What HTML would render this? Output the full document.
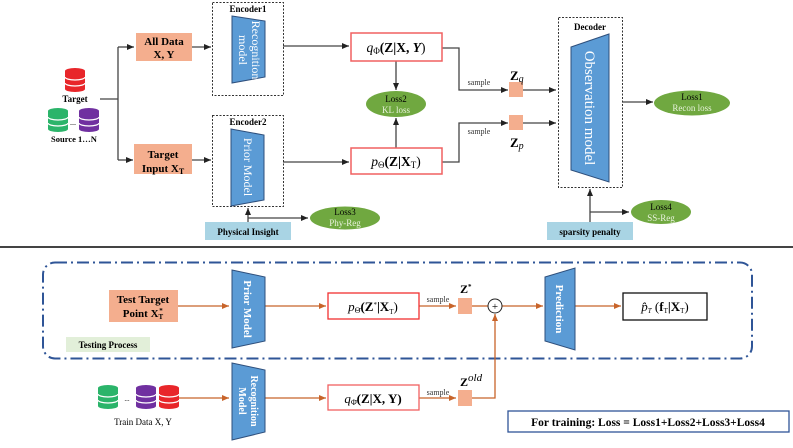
<!DOCTYPE html>
<html><head><meta charset="utf-8"><style>
body{margin:0;background:#fff}
svg{display:block;font-family:"Liberation Serif",serif}
</style></head><body>
<svg width="793" height="448" viewBox="0 0 793 448" xmlns="http://www.w3.org/2000/svg">
<defs>
<marker id="a" markerWidth="8" markerHeight="8" refX="7" refY="4" orient="auto" markerUnits="userSpaceOnUse"><path d="M0,1 L7,4 L0,7z" fill="#222"/></marker>
<marker id="o" markerWidth="8" markerHeight="8" refX="7" refY="4" orient="auto" markerUnits="userSpaceOnUse"><path d="M0,1 L7,4 L0,7z" fill="#c8642a"/></marker>
<g id="db"><ellipse cx="0" cy="0" rx="10" ry="3"/><rect x="-10" y="0" width="20" height="18"/><ellipse cx="0" cy="18" rx="10" ry="3"/><path d="M-10,6 a10,3 0 0 0 20,0 M-10,12 a10,3 0 0 0 20,0" stroke="#fff" stroke-width="1.2" fill="none"/></g>
</defs>
<!-- TOP -->
<g fill="#e8262a"><use href="#db" x="75" y="71"/></g>
<text x="75" y="102" font-size="9" font-weight="bold" text-anchor="middle">Target</text>
<g fill="#2bb46a"><use href="#db" x="58" y="111"/></g>
<text x="73" y="125" font-size="8" text-anchor="middle">...</text>
<g fill="#7030a0"><use href="#db" x="89" y="111"/></g>
<text x="74" y="142" font-size="8.5" font-weight="bold" text-anchor="middle">Source 1…N</text>
<g stroke="#444" stroke-width="1.3" fill="none">
<path d="M100,99 H118 M118,47 V160"/>
<path d="M118,47 H134" marker-end="url(#a)"/><path d="M118,160 H133" marker-end="url(#a)"/>
<path d="M192,47 H211" marker-end="url(#a)"/><path d="M192,160 H211" marker-end="url(#a)"/>
<path d="M283,46 H349" marker-end="url(#a)"/><path d="M283,162 H349" marker-end="url(#a)"/>
<path d="M396,61 V90" marker-end="url(#a)"/><path d="M396,148 V118" marker-end="url(#a)"/>
<path d="M442,48 H459 V90 H508" marker-end="url(#a)"/><path d="M442,162 H459 V123 H508" marker-end="url(#a)"/>
<path d="M523,90 H556" marker-end="url(#a)"/><path d="M523,123 H556" marker-end="url(#a)"/>
<path d="M622,102 H653" marker-end="url(#a)"/>
<path d="M248,222 V208" marker-end="url(#a)"/><path d="M248,218 H308" marker-end="url(#a)"/>
<path d="M590,222 V189" marker-end="url(#a)"/><path d="M590,212 H629" marker-end="url(#a)"/>
</g>
<rect x="136" y="33" width="56" height="28" fill="#f4ae8e"/>
<text x="164" y="45" font-size="11" font-weight="bold" text-anchor="middle">All Data</text>
<text x="164" y="58" font-size="11" font-weight="bold" text-anchor="middle">X, Y</text>
<rect x="134" y="144" width="58" height="30" fill="#f4ae8e"/>
<text x="163" y="158" font-size="11" font-weight="bold" text-anchor="middle">Target</text>
<text x="163" y="172" font-size="11" font-weight="bold" text-anchor="middle">Input X<tspan font-size="8" dy="2">T</tspan></text>
<rect x="212.5" y="2.5" width="71" height="93" fill="none" stroke="#333" stroke-dasharray="2,1.5"/>
<text x="248" y="12" font-size="9" font-weight="bold" text-anchor="middle">Encoder1</text>
<path d="M232,16 L265,21 L265,77 L232,83z" fill="#5b9bd5" stroke="#2e4f7c"/>
<text transform="translate(248,50) rotate(90)" font-size="12" fill="#fff" text-anchor="middle"><tspan x="0" y="-4">Recognition</tspan><tspan x="0" y="9">model</tspan></text>
<rect x="212.5" y="115.5" width="71" height="91" fill="none" stroke="#333" stroke-dasharray="2,1.5"/>
<text x="248" y="125" font-size="9" font-weight="bold" text-anchor="middle">Encoder2</text>
<path d="M231,129 L264,135 L264,200 L231,206z" fill="#5b9bd5" stroke="#2e4f7c"/>
<text transform="translate(248,167) rotate(90)" font-size="12" fill="#fff" text-anchor="middle" y="4">Prior Model</text>
<rect x="351" y="33" width="91" height="28" fill="#fff" stroke="#f06060" stroke-width="1.5"/>
<text x="396" y="52" font-size="13.5" text-anchor="middle"><tspan font-style="italic">q</tspan><tspan font-size="9" dy="2">Φ</tspan><tspan dy="-2" font-weight="bold">(Z|X, </tspan><tspan font-weight="bold" font-style="italic">Y</tspan><tspan>)</tspan></text>
<rect x="351" y="148" width="91" height="26" fill="#fff" stroke="#f06060" stroke-width="1.5"/>
<text x="396" y="166" font-size="13.5" text-anchor="middle"><tspan font-style="italic">p</tspan><tspan font-size="9" dy="2">Θ</tspan><tspan dy="-2" font-weight="bold">(Z|X</tspan><tspan font-size="9" dy="2">T</tspan><tspan dy="-2">)</tspan></text>
<ellipse cx="396" cy="104" rx="30" ry="13" fill="#70a840"/>
<text x="396" y="102" font-size="9" text-anchor="middle">Loss2</text>
<text x="396" y="113" font-size="9" fill="#e8f2dc" text-anchor="middle">KL loss</text>
<text x="479" y="85" font-size="8" text-anchor="middle" fill="#333">sample</text>
<text x="479" y="134" font-size="8" text-anchor="middle" fill="#333">sample</text>
<rect x="509" y="82" width="14" height="15" fill="#f4ae8e"/>
<rect x="509" y="115" width="14" height="15" fill="#f4ae8e"/>
<text x="510" y="80" font-size="13" font-weight="bold">Z<tspan font-size="10" font-weight="normal" font-style="italic" dy="2">q</tspan></text>
<text x="510" y="147" font-size="13" font-weight="bold">Z<tspan font-size="10" font-weight="normal" font-style="italic" dy="2">p</tspan></text>
<rect x="558.5" y="17.5" width="64" height="170" fill="none" stroke="#333" stroke-dasharray="2,1.5"/>
<text x="590" y="30" font-size="9" font-weight="bold" text-anchor="middle">Decoder</text>
<path d="M571,47 L609,34 L609,182 L571,170z" fill="#5b9bd5" stroke="#2e4f7c"/>
<text transform="translate(590,108) rotate(90)" font-size="15" fill="#fff" text-anchor="middle" y="5">Observation model</text>
<ellipse cx="692" cy="103" rx="38" ry="12.5" fill="#70a840"/>
<text x="692" y="100" font-size="9" text-anchor="middle">Loss1</text>
<text x="692" y="111" font-size="9" fill="#e8f2dc" text-anchor="middle">Recon loss</text>
<rect x="205" y="222" width="86" height="18" fill="#a9d4e4"/>
<text x="248" y="235" font-size="9" font-weight="bold" text-anchor="middle">Physical Insight</text>
<ellipse cx="345" cy="218" rx="35" ry="11.5" fill="#70a840"/>
<text x="345" y="215" font-size="9" text-anchor="middle">Loss3</text>
<text x="345" y="226" font-size="9" fill="#e8f2dc" text-anchor="middle">Phy-Reg</text>
<rect x="547" y="222" width="86" height="18" fill="#a9d4e4"/>
<text x="590" y="235" font-size="9" font-weight="bold" text-anchor="middle">sparsity penalty</text>
<ellipse cx="661" cy="212" rx="30" ry="12" fill="#70a840"/>
<text x="661" y="210" font-size="9" text-anchor="middle">Loss4</text>
<text x="661" y="221" font-size="9" fill="#e8f2dc" text-anchor="middle">SS-Reg</text>
<line x1="0" y1="247" x2="793" y2="247" stroke="#444" stroke-width="2"/>
<!-- BOTTOM -->
<rect x="43" y="262.5" width="709" height="96" rx="12" fill="none" stroke="#2f5597" stroke-width="2" stroke-dasharray="12,4,2,4"/>
<g stroke="#c8642a" stroke-width="1.3" fill="none">
<path d="M178,306 H229" marker-end="url(#o)"/><path d="M265,306 H326" marker-end="url(#o)"/>
<path d="M419,306 H456" marker-end="url(#o)"/><path d="M472,306 H488"/>
<path d="M502,306 H543" marker-end="url(#o)"/><path d="M575,306 H621" marker-end="url(#o)"/>
<path d="M178,398 H229" marker-end="url(#o)"/><path d="M265,398 H326" marker-end="url(#o)"/>
<path d="M419,398 H456" marker-end="url(#o)"/><path d="M472,398 H495 V314" marker-end="url(#o)"/>
</g>
<rect x="109" y="290" width="69" height="32" fill="#f4ae8e"/>
<text x="143" y="303" font-size="11" font-weight="bold" text-anchor="middle">Test Target</text>
<text x="143" y="317" font-size="11" font-weight="bold" text-anchor="middle">Point X<tspan font-size="7" dy="2">T</tspan><tspan font-size="7" dy="-6" dx="-4">*</tspan></text>
<path d="M232,270 L265,277 L265,341 L232,348z" fill="#5b9bd5" stroke="#2e4f7c"/>
<text transform="translate(248,309) rotate(90)" font-size="11" font-weight="bold" fill="#fff" text-anchor="middle" y="4">Prior Model</text>
<rect x="328" y="293" width="91" height="26" fill="#fff" stroke="#f03030" stroke-width="1.3"/>
<text x="373" y="311" font-size="13" text-anchor="middle"><tspan font-style="italic">p</tspan><tspan font-size="8" dy="2">Θ̄</tspan><tspan dy="-2" font-weight="bold">(Z</tspan><tspan font-size="7" dy="-4">*</tspan><tspan dy="4" font-weight="bold">|X</tspan><tspan font-size="7" dy="3">T</tspan><tspan dy="-3">)</tspan></text>
<text x="438" y="302" font-size="8" text-anchor="middle" fill="#333">sample</text>
<rect x="458" y="298" width="14" height="16" fill="#f4ae8e"/>
<text x="460" y="293" font-size="12" font-weight="bold">Z<tspan font-size="7" dy="-4">*</tspan></text>
<circle cx="495" cy="306" r="7" fill="#fff" stroke="#222"/>
<text x="495" y="310" font-size="11" text-anchor="middle">+</text>
<path d="M545,277 L575,268 L575,350 L545,341z" fill="#5b9bd5" stroke="#2e4f7c"/>
<text transform="translate(560,309) rotate(90)" font-size="11" font-weight="bold" fill="#fff" text-anchor="middle" y="4">Prediction</text>
<rect x="623" y="293" width="84" height="27" fill="#fff" stroke="#111" stroke-width="1.3"/>
<text x="665" y="311" font-size="13" text-anchor="middle"><tspan font-style="italic">p̂</tspan><tspan font-size="7" font-style="italic" dy="2">T</tspan><tspan dy="-2"> (</tspan><tspan font-weight="bold">f</tspan><tspan font-size="7" dy="2">T</tspan><tspan dy="-2" font-weight="bold">|X</tspan><tspan font-size="7" dy="2">T</tspan><tspan dy="-2">)</tspan></text>
<rect x="66" y="337" width="84" height="15" fill="#e2efd9"/>
<text x="108" y="348" font-size="9" font-weight="bold" text-anchor="middle">Testing Process</text>
<g fill="#2bb46a"><use href="#db" x="108" y="388"/></g>
<text x="127" y="401" font-size="7" text-anchor="middle">...</text>
<g fill="#7030a0"><use href="#db" x="146" y="388"/></g>
<g fill="#e8262a"><use href="#db" x="169" y="388"/></g>
<text x="143" y="425" font-size="9" text-anchor="middle">Train Data  X, Y</text>
<path d="M232,363 L265,370 L265,432 L232,440z" fill="#5b9bd5" stroke="#2e4f7c"/>
<text transform="translate(248,401) rotate(90)" font-size="10" font-weight="bold" fill="#fff" text-anchor="middle"><tspan x="0" y="-3">Recognition</tspan><tspan x="0" y="9">Model</tspan></text>
<rect x="328" y="385" width="91" height="25" fill="#fff" stroke="#f06060" stroke-width="1.3"/>
<text x="373" y="403" font-size="13" text-anchor="middle"><tspan font-style="italic">q</tspan><tspan font-size="8" dy="2">Φ̄</tspan><tspan dy="-2" font-weight="bold">(Z|X, Y)</tspan></text>
<text x="438" y="395" font-size="8" text-anchor="middle" fill="#333">sample</text>
<rect x="458" y="390" width="14" height="16" fill="#f4ae8e"/>
<text x="460" y="386" font-size="12" font-weight="bold">Z<tspan font-size="11" font-weight="normal" font-style="italic" dy="-5">old</tspan></text>
<rect x="508" y="411" width="281" height="21" fill="#fff" stroke="#2f5597" stroke-width="1.3"/>
<text x="648" y="426" font-size="11.5" font-weight="bold" text-anchor="middle">For training: Loss = Loss1+Loss2+Loss3+Loss4</text>
</svg>
</body></html>
